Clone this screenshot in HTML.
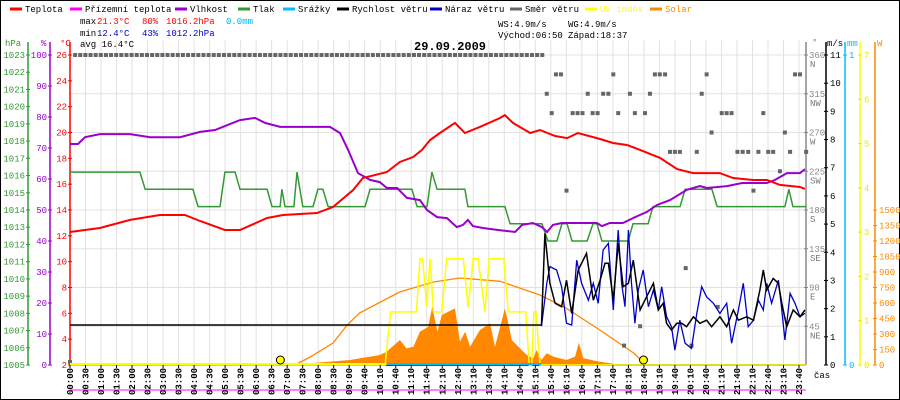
<!DOCTYPE html>
<html><head><meta charset="utf-8"><style>
html,body{margin:0;padding:0;background:#fff}
svg{display:block}
text{font-family:"Liberation Mono",monospace;font-size:9px}
</style></head><body>
<svg id="chart" width="900" height="400" viewBox="0 0 900 400" xmlns="http://www.w3.org/2000/svg">
<rect x="0.5" y="0.5" width="899" height="399" fill="#fff" stroke="#000"/>
<g id="grid"></g>
<g id="legend"></g>
<g>
<text x="80" y="24" fill="#000">max</text>
<text x="97" y="24" fill="#f00">21.3°C</text>
<text x="142" y="24" fill="#f00">80%</text>
<text x="166" y="24" fill="#f00">1016.2hPa</text>
<text x="226" y="24" fill="#00b0f0">0.0mm</text>
<text x="80" y="36" fill="#000">min</text>
<text x="97" y="36" fill="#00c">12.4°C</text>
<text x="142" y="36" fill="#00c">43%</text>
<text x="166" y="36" fill="#00c">1012.2hPa</text>
<text x="80" y="47" fill="#000">avg 16.4°C</text>
<text x="498" y="27" fill="#000">WS:4.9m/s</text>
<text x="568" y="27" fill="#000">WG:4.9m/s</text>
<text x="498" y="38" fill="#000">Východ:06:50</text>
<text x="568" y="38" fill="#000">Západ:18:37</text>
<text x="414" y="50" fill="#000" style="font-size:12px;font-weight:bold">29.09.2009</text>
</g>
<g id="axes"></g>
<g id="series"></g>
<g id="xaxis"></g>
</svg>
<script>
// ---- data ----
const tempT=[0,0.97,1.95,2.92,3.73,4.22,5.03,5.52,6.40,6.92,8.02,8.54,9.19,9.51,10.29,10.71,11.14,11.43,11.69,12.01,12.5,12.82,13.31,13.96,14.12,14.38,14.94,15.26,15.75,16.14,16.49,17.21,17.63,18.08,18.51,19.16,19.71,20.23,21.10,21.53,22.18,22.63,23.05,23.7,23.86];
const tempV=[12.30,12.61,13.23,13.61,13.61,13.15,12.45,12.45,13.38,13.61,13.77,14.23,15.55,16.48,16.94,17.72,18.10,18.65,19.42,19.96,20.74,19.96,20.43,21.12,21.35,20.74,19.96,20.19,19.73,19.57,19.96,19.50,19.19,19.03,18.65,18.03,17.17,16.86,16.86,16.48,16.32,16.32,15.94,15.78,15.63];
const humT=[0,0.26,0.49,0.97,1.95,2.60,3.57,4.22,4.71,5.19,5.52,6.01,6.33,6.82,8.44,8.77,9.03,9.35,9.74,10.06,10.29,10.62,10.94,11.36,11.59,11.92,12.24,12.56,12.76,12.92,13.08,13.41,13.96,14.45,14.68,15.03,15.32,15.49,15.68,15.97,17.11,17.27,17.53,17.95,18.28,18.73,19.06,19.48,20.03,20.45,20.68,21.33,21.82,22.63,22.89,23.28,23.70,23.86];
const humV=[71.3,71.3,73.5,74.5,74.5,73.5,73.5,75.2,75.8,77.7,79.0,79.7,78.1,76.8,76.8,74.8,69.4,61.9,59.7,59.0,57.1,57.1,53.9,53.2,50.0,47.7,47.4,44.5,45.2,46.8,44.8,44.2,43.5,42.9,45.2,45.8,44.5,42.9,45.2,45.8,45.8,44.8,45.8,45.8,47.4,49.4,51.6,53.2,56.5,57.7,57.1,57.7,58.7,58.7,59.7,61.9,61.9,63.2];
const presT=[0,2.27,2.44,3.99,4.16,4.87,5.03,5.36,5.52,6.40,6.56,6.82,6.88,6.98,7.27,7.37,7.56,7.89,8.05,8.21,8.38,9.58,9.74,11.10,11.27,11.59,11.75,11.92,12.82,12.92,14.12,14.29,15.32,15.52,15.81,15.97,16.14,16.30,16.79,16.98,17.11,17.27,18.12,18.28,18.77,18.93,19.81,19.97,20.84,21.01,23.21,23.34,23.47,23.9];
const presV=[1016.2,1016.2,1015.2,1015.2,1014.2,1014.2,1016.2,1016.2,1015.2,1015.2,1014.2,1014.2,1015.2,1014.2,1014.2,1016.2,1014.2,1014.2,1015.2,1015.2,1014.2,1014.2,1015.2,1015.2,1014.2,1014.2,1016.2,1015.2,1015.2,1014.2,1014.2,1013.2,1013.2,1012.2,1012.2,1013.2,1013.2,1012.2,1012.2,1013.2,1013.2,1012.2,1012.2,1013.2,1013.2,1014.2,1014.2,1015.2,1015.2,1014.2,1014.2,1015.2,1014.2,1014.2];
const windT=[0,15.31,15.42,15.58,15.75,15.96,16.12,16.29,16.50,16.77,16.99,17.21,17.37,17.48,17.64,17.80,17.96,18.13,18.29,18.51,18.72,18.94,19.10,19.26,19.37,19.53,19.70,19.86,20.02,20.24,20.45,20.67,20.83,21.10,21.32,21.54,21.70,21.97,22.19,22.40,22.51,22.62,22.83,23.00,23.11,23.27,23.48,23.70,23.86];
const windV=[1.42,1.42,4.67,2.90,2.19,2.07,3.01,1.83,3.37,3.96,2.30,3.01,3.61,3.61,2.30,4.32,2.78,2.90,3.72,1.95,2.42,2.90,1.95,2.19,1.48,1.24,1.48,1.48,1.36,1.71,1.48,1.59,1.36,1.71,1.36,1.95,1.59,1.71,1.59,2.66,3.37,2.66,3.07,2.90,2.19,1.36,1.95,1.71,1.95];
const gustT=[15.31,15.48,15.58,15.80,15.96,16.12,16.29,16.45,16.61,16.83,16.99,17.15,17.31,17.48,17.64,17.80,17.91,18.02,18.13,18.23,18.34,18.45,18.61,18.78,18.94,19.10,19.21,19.37,19.53,19.64,19.80,19.97,20.18,20.35,20.51,20.67,20.89,21.10,21.32,21.48,21.70,21.86,22.02,22.19,22.35,22.51,22.62,22.78,23.00,23.11,23.21,23.38,23.54,23.70,23.86];
const gustV=[1.38,2.90,3.49,3.37,2.78,1.48,1.42,3.72,2.90,2.30,2.90,2.19,4.08,4.32,1.95,4.79,2.90,2.07,4.79,2.90,1.48,2.66,3.37,2.07,2.66,1.95,2.78,1.71,1.36,0.53,1.59,0.77,0.59,1.83,2.78,2.42,2.19,1.83,2.19,0.77,1.95,2.90,1.36,1.59,2.30,1.95,2.90,2.19,3.01,1.95,0.89,2.54,2.19,1.71,1.83];
const dirT=[0,15.78,15.94,17.64,18.99,19.15,19.32,20.67,23.54,23.70,15.48,16.81,17.31,17.48,18.18,18.83,20.51,15.64,16.32,16.48,16.64,16.97,17.13,17.80,18.34,18.67,21.16,21.32,21.48,22.51,20.83,23.21,19.48,19.64,19.80,20.35,21.67,21.84,22.02,22.35,22.67,22.83,23.38,23.90,23.05,16.12,22.19,19.99,21.03,18.51,17.99,20.18];
const dirV=[0,337.5,337.5,337.5,337.5,337.5,337.5,337.5,337.5,337.5,315,315,315,315,315,315,315,292.5,292.5,292.5,292.5,292.5,292.5,292.5,292.5,292.5,292.5,292.5,292.5,292.5,270,270,247.5,247.5,247.5,247.5,247.5,247.5,247.5,247.5,247.5,247.5,247.5,247.5,225,202.5,202.5,112.5,67.5,45,22.5,22.5];
const dirTopCount=92; // 10-minute samples 00:10 .. 15:20, all from north
const dirTopValue=360;
const solarT=[7.6,7.8,9.09,10.06,10.28,10.71,10.93,11.15,11.36,11.63,11.76,11.93,12.07,12.5,12.66,12.83,12.99,13.31,13.64,13.8,14.12,14.28,14.34,14.61,14.83,15.04,15.15,15.31,15.48,15.69,16.12,16.4,16.52,16.67,17.2,17.7,17.75];
const solarV=[0,16,48,97,129,242,161,177,322,371,564,322,484,548,226,322,177,339,403,177,548,339,242,161,97,65,145,49,113,81,48,81,216,65,32,10,0];
const theoT=[7.3,7.8,8.54,9.0,9.4,10.7,11.8,12.66,13.96,15.26,16.1,17.2,18.3,18.6,18.7];
const theoV=[0,77,213,387,503,706,803,842,810,677,552,339,116,30,0];
const uvT=[0,10.23,10.41,11.25,11.36,11.45,11.58,11.69,11.8,12.07,12.23,12.77,12.93,13.09,13.25,13.47,13.61,14.08,14.23,14.8,14.91,14.99,15.06,15.13,15.26,23.9];
const uvV=[0,0,1.2,1.2,2.4,2.4,1.3,2.4,1.2,1.2,2.4,2.4,1.3,2.4,2.4,1.2,2.4,2.4,1.2,1.2,0,0,1.2,1.2,0,0];
const rainT=[10.28,15.3];
const rainV=[0,0];
const sunT=[6.83,18.62];
const timeLabels=["00:00","00:30","01:00","01:30","02:00","02:30","03:00","03:30","04:00","04:30","05:00","05:30","06:00","06:30","07:00","07:30","08:00","08:30","09:00","09:40","10:10","10:40","11:10","11:40","12:10","12:40","13:10","13:40","14:10","14:40","15:10","15:40","16:10","16:40","17:10","17:40","18:10","18:40","19:10","19:40","20:10","20:40","21:10","21:40","22:10","22:40","23:10","23:40"];
const hpaTicks=[1023,1022,1021,1020,1019,1018,1017,1016,1015,1014,1013,1012,1011,1010,1009,1008,1007,1006,1005];
const humTicks=[100,90,80,70,60,50,40,30,20,10,0];
const tempTicks=[26,24,22,20,18,16,14,12,10,8,6,4,2];
const dirTicks=[360,315,270,225,180,135,90,45];
const dirNames=["N","NW","W","SW","S","SE","E","NE"];
const msTicks=[11,10,9,8,7,6,5,4,3,2,1,0];
const uvTicks=[7,6,5,4,3,2,1,0];
const wTicks=[1500,1350,1200,1050,900,750,600,450,300,150,0];

// ---- scales ----
const X0=70,PXH=30.8,YB=365,YT=55;
const X=h=>X0+h*PXH;
const yT=t=>YB-(t-2)*(YB-YT)/24;
const yH=v=>YB-v*(YB-YT)/100;
const yP=p=>YB-(p-1005)*(YB-YT)/18;
const yD=d=>YB-d*(YB-YT)/360;
const yS=s=>YB-s*(YB-YT)/11;
const yU=u=>YB-u*(YB-YT)/7;
const yW=w=>YB-w*(YB-210)/1500;
const NS="http://www.w3.org/2000/svg";
function mk(parent,tag,attrs,txt){const e=document.createElementNS(NS,tag);for(const k in attrs)e.setAttribute(k,attrs[k]);if(txt!==undefined)e.textContent=txt;document.getElementById(parent).appendChild(e);return e;}
function pts(ts,vs,fy){return ts.map((t,i)=>X(t).toFixed(1)+","+fy(vs[i]).toFixed(1)).join(" ");}

// ---- grid ----
timeLabels.forEach((l,i)=>{
  const x=X0+i*(729/47);
  const g=mk("grid","line",{x1:x,y1:40,x2:x,y2:YB,stroke:"#e4e0e0","stroke-width":1});
  
  
  const tk=mk("xaxis","line",{x1:x,y1:YB,x2:x,y2:YB+3,stroke:"#000"});
  
  
  const t=mk("xaxis","text",{x:0,y:0,transform:"translate("+(x+3)+",395) rotate(-90)",fill:"#000","font-size":"8.5",style:"font-weight:bold"},l);
  
  
});
dirTicks.forEach(d=>{
  const g=mk("grid","line",{x1:X0,y1:yD(d),x2:806,y2:yD(d),stroke:"#e4e0e0"});
  
  
});

// ---- legend ----
const legendItems=[["Teplota","#f00",10],["Přízemní teplota","#f0f",70],["Vlhkost","#90c",175],["Tlak","#393",238],["Srážky","#00bfff",283],["Rychlost větru","#000",337],["Náraz větru","#00c",430],["Směr větru","#666",510],["UV index","#ff0",585],["Solar","#f80",650]];
legendItems.forEach(it=>{
  const l=mk("legend","line",{x1:it[2],y1:9,x2:it[2]+12,y2:9,stroke:it[1],"stroke-width":3});
  
  
  const t=mk("legend","text",{x:it[2]+15,y:12,fill:(it[1]=="#ff0"?"#ff0":(it[1]=="#f80"?"#f80":"#000"))},it[0]);
  
  
});

// ---- axes ----
function axisLine(x,col,y1,name){const a=mk("axes","line",{x1:x,y1:y1,x2:x,y2:YB,stroke:col,"stroke-width":1.5});}
axisLine(28,"#393",42,"pressure-axis");
axisLine(50,"#90c",42,"humidity-axis");
axisLine(70,"#f00",42,"temperature-axis");
axisLine(806,"#888",42,"direction-axis");
axisLine(826,"#000",42,"wind-speed-axis");
axisLine(845,"#00bfff",42,"rain-axis");
axisLine(860,"#ff0",42,"uv-axis");
axisLine(875,"#f80",42,"solar-axis");
function tick(x,y,col,label,lx,anchor,name){
  const l=mk("axes","line",{x1:x-2,y1:y,x2:x+2,y2:y,stroke:col});
  
  
  const t=mk("axes","text",{x:lx,y:y+3,fill:col,"text-anchor":anchor},label);
  
  
}
hpaTicks.forEach(v=>tick(28,yP(v),"#393",v,25,"end","pressure"));
humTicks.forEach(v=>tick(50,yH(v),"#90c",v,47,"end","humidity"));
tempTicks.forEach(v=>tick(70,yT(v),"#f00",v,67,"end","temperature"));
dirTicks.forEach((v,i)=>{tick(806,yD(v),"#888",v,809,"start","direction");
  const t=mk("axes","text",{x:810,y:yD(v)+12,fill:"#777"},dirNames[i]);
  
  });
msTicks.forEach(v=>tick(826,yS(v),"#000",v,830,"start","wind-speed"));
tick(845,yU(7),"#00bfff","1",849,"start","rain");
tick(845,YB,"#00bfff","0",849,"start","rain");
uvTicks.forEach(v=>tick(860,yU(v),"#e8e800",v,864,"start","uv"));
wTicks.forEach(v=>tick(875,yW(v),"#f80",v,879,"start","solar"));
[["hPa",5,46,"#393"],["%",41,46,"#90c"],["°C",60,46,"#f00"],["°",812,45,"#777"],["m/s",827,46,"#000"],["mm",847,46,"#00bfff"],["W",877,46,"#f80"],["čas",814,378,"#000"]].forEach(u=>{
  const t=mk("axes","text",{x:u[1],y:u[2],fill:u[3]},u[0]);
  
  
});
const mg=mk("xaxis","line",{x1:X0,y1:390,x2:806,y2:390,stroke:"#f0f"});


const bl=mk("axes","line",{x1:X0,y1:YB,x2:806,y2:YB,stroke:"#000","stroke-width":1.5});



// ---- series ----
const sol=mk("series","polygon",{points:X(solarT[0])+","+YB+" "+pts(solarT,solarV,yW)+" "+X(solarT[solarT.length-1])+","+YB,fill:"#f80"});


const theo=mk("series","polyline",{points:pts(theoT,theoV,yW),fill:"none",stroke:"#f80","stroke-width":1.3});


const uv=mk("series","polyline",{points:pts(uvT,uvV,yU),fill:"none",stroke:"#ff0","stroke-width":1.5});


const rain=mk("series","polyline",{points:pts(rainT,rainV,v=>YB-1-v*310),fill:"none",stroke:"#00bfff","stroke-width":2});


for(let i=1;i<=dirTopCount;i++){
  const r=mk("series","rect",{x:X(i/6)-2,y:yD(dirTopValue)-2,width:4,height:4,fill:"#666"});
  
  
}
dirT.forEach((t,i)=>{
  const r=mk("series","rect",{x:X(t)-2,y:yD(dirV[i])-(i==0?5:2),width:4,height:4,fill:"#666"});
  
  
});
const pr=mk("series","polyline",{points:pts(presT,presV,yP),fill:"none",stroke:"#393","stroke-width":1.5});


const hu=mk("series","polyline",{points:pts(humT,humV,yH),fill:"none",stroke:"#90c","stroke-width":2});


const te=mk("series","polyline",{points:pts(tempT,tempV,yT),fill:"none",stroke:"#f00","stroke-width":2});


const gu=mk("series","polyline",{points:pts(gustT,gustV,yS),fill:"none",stroke:"#00c","stroke-width":1.3});


const wi=mk("series","polyline",{points:pts(windT,windV,yS),fill:"none",stroke:"#000","stroke-width":1.5});


const uvb=mk("series","line",{x1:X0,y1:YB-1,x2:X(rainT[0]),y2:YB-1,stroke:"#ff0","stroke-width":2});


sunT.forEach(t=>{
  const c=mk("series","circle",{cx:X(t),cy:YB-5,r:4,fill:"#ff0",stroke:"#000","stroke-width":1});
  
  
});
</script>
</body></html>
